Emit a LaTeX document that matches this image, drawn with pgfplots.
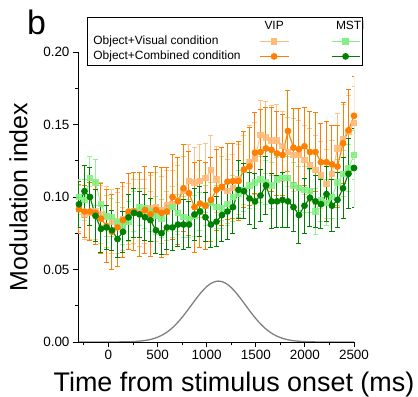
\documentclass[border=0pt]{standalone}
\usepackage{fontspec}
\setmainfont{Liberation Sans}
\usepackage{pgfplots}
\usepackage{pgfplotstable}
\pgfplotsset{compat=1.18}
\definecolor{oD}{RGB}{255,127,0}
\definecolor{oL}{RGB}{255,185,120}
\definecolor{gD}{RGB}{0,128,0}
\definecolor{gL}{RGB}{130,240,130}
\definecolor{gau}{RGB}{128,128,128}

\pgfplotstableread{
x y e
-300 .092 .016
-244 .088 .017
-188 .089 .018
-132 .090 .019
-76 .088 .020
-20 .086 .021
36 .083 .022
92 .082 .021
148 .085 .022
204 .088 .021
260 .090 .022
316 .089 .023
372 .090 .022
428 .092 .023
484 .093 .024
540 .091 .023
596 .094 .024
652 .095 .023
708 .098 .024
764 .104 .024
820 .111 .025
876 .110 .024
932 .111 .025
988 .113 .024
1044 .1186 .024
1100 .112 .023
1156 .106 .022
1212 .104 .022
1268 .106 .023
1324 .112 .024
1380 .1186 .024
1436 .124 .025
1492 .1266 .025
1548 .1427 .024
1604 .141 .025
1660 .139 .024
1716 .139 .025
1772 .135 .024
1828 .131 .024
1884 .129 .025
1940 .129 .024
1996 .1255 .024
2052 .122 .025
2108 .1186 .024
2164 .115 .023
2220 .109 .024
2276 .116 .023
2332 .1335 .024
2388 .140 .024
2444 .145 .025
2500 .151 .025
}\tVL

\pgfplotstableread{
x y e
-300 .100 .012
-244 .098 .014
-188 .113 .015
-132 .110 .016
-76 .095 .015
-20 .087 .014
36 .086 .013
92 .083 .013
148 .080 .013
204 .083 .014
260 .090 .014
316 .093 .013
372 .092 .014
428 .090 .014
484 .087 .013
540 .085 .013
596 .090 .014
652 .093 .014
708 .089 .013
764 .086 .014
820 .085 .013
876 .087 .014
932 .090 .013
988 .094 .014
1044 .096 .014
1100 .093 .015
1156 .092 .014
1212 .095 .015
1268 .100 .015
1324 .102 .016
1380 .105 .015
1436 .108 .016
1492 .110 .015
1548 .112 .016
1604 .110 .015
1660 .108 .016
1716 .112 .015
1772 .113 .016
1828 .113 .015
1884 .108 .016
1940 .106 .015
1996 .105 .016
2052 .104 .015
2108 .090 .016
2164 .098 .015
2220 .096 .016
2276 .100 .015
2332 .110 .016
2388 .116 .016
2444 .120 .016
2500 .129 .017
}\tVM

\pgfplotstableread{
x y e
-300 .0915 .017
-244 .090 .018
-188 .090 .020
-132 .089 .022
-76 .085 .024
-20 .080 .025
36 .076 .026
92 .079 .027
148 .084 .026
204 .090 .026
260 .090 .027
316 .088 .029
372 .091 .030
428 .088 .029
484 .091 .030
540 .089 .031
596 .090 .030
652 .100 .029
708 .097 .030
764 .106 .030
820 .1026 .029
876 .093 .031
932 .0955 .030
988 .094 .030
1044 .098 .029
1100 .105 .028
1156 .107 .027
1212 .1106 .026
1268 .111 .026
1324 .111 .027
1380 .119 .026
1436 .121 .027
1492 .1306 .028
1548 .131 .029
1604 .1335 .028
1660 .1325 .029
1716 .130 .029
1772 .129 .028
1828 .1455 .028
1884 .134 .027
1940 .133 .028
1996 .135 .027
2052 .131 .028
2108 .131 .027
2164 .124 .027
2220 .124 .028
2276 .1225 .027
2332 .121 .028
2388 .137 .028
2444 .146 .028
2500 .156 .027
}\tCV

\pgfplotstableread{
x y e
-300 .095 .016
-244 .104 .018
-188 .100 .020
-132 .087 .018
-76 .078 .016
-20 .079 .015
36 .077 .014
92 .071 .013
148 .076 .014
204 .086 .016
260 .089 .017
316 .088 .016
372 .086 .016
428 .084 .015
484 .077 .016
540 .075 .015
596 .079 .015
652 .079 .016
708 .081 .015
764 .081 .017
820 .081 .016
876 .088 .018
932 .090 .017
988 .086 .017
1044 .081 .016
1100 .083 .017
1156 .0876 .018
1212 .090 .019
1268 .093 .018
1324 .105 .020
1380 .104 .019
1436 .099 .018
1492 .097 .019
1548 .101 .018
1604 .108 .020
1660 .097 .019
1716 .097 .018
1772 .098 .019
1828 .097 .018
1884 .093 .017
1940 .0876 .020
1996 .094 .019
2052 .0995 .020
2108 .097 .018
2164 .095 .017
2220 .102 .019
2276 .094 .018
2332 .098 .019
2388 .106 .021
2444 .116 .024
2500 .120 .027
}\tCM

\pgfplotstableread{
x y
-300 0
0 0.00001
200 0.000156
300 0.000493
400 0.001364
450 0.00216
500 0.003308
550 0.004902
600 0.007026
650 0.009748
700 0.013083
750 0.016989
800 0.021344
850 0.025939
900 0.030496
950 0.034696
1000 0.038186
1050 0.04066
1100 0.041889
1120 0.042
1150 0.041751
1200 0.04026
1250 0.03756
1300 0.033903
1350 0.029602
1400 0.025011
1450 0.020446
1500 0.016166
1550 0.012369
1600 0.009156
1650 0.006556
1700 0.004544
1750 0.003045
1800 0.001975
1850 0.001239
1900 0.000752
2000 0.000251
2100 0.00007
2200 0.00001
2500 0
}\tG

\pgfplotsset{
  ebar/.style={error bars/.cd, y dir=both, y explicit,
     error bar style={line width=1bp, #1},
     error mark options={rotate=90, mark size=2.5bp, line width=1bp, #1}},
}

\begin{document}
\begin{tikzpicture}
\useasboundingbox (-78bp,-55bp) rectangle (340bp,342bp);
\begin{axis}[
  at={(0,0)}, anchor=south west,
  width=276bp, height=290bp, scale only axis,
  xmin=-310, xmax=2500, ymin=0, ymax=0.2,
  axis lines*=left,
  axis line style={line width=0.8bp, black},
  xtick={0,500,1000,1500,2000,2500},
  minor xtick={-250,250,750,1250,1750,2250},
  ytick={0,0.05,0.1,0.15,0.2},
  minor ytick={0.025,0.075,0.125,0.175},
  tick align=outside,
  major tick length=5bp, minor tick length=3bp,
  every tick/.style={black, line width=0.8bp},
  tick label style={font=\fontsize{13.5}{16}\selectfont},
  /pgf/number format/assume math mode=true,
  xticklabel style={/pgf/number format/set thousands separator={}},
  yticklabel style={/pgf/number format/.cd, fixed, fixed zerofill, precision=2},
  xlabel={Time from stimulus onset (ms)},
  xlabel style={at={(axis description cs:0.565,-0.171)}, anchor=base, font=\fontsize{27}{32}\selectfont},
  ylabel={Modulation index},
  ylabel style={at={(axis description cs:-0.1837,0.5)}, anchor=base, font=\fontsize{25}{30}\selectfont},
  legend style={at={(0,1)}, anchor=north west, xshift=9bp, yshift=35bp,
    draw=black, line width=0.8bp, fill=white, font=\fontsize{12}{14}\selectfont,
    inner xsep=5bp, inner ysep=1.5bp,
    nodes={inner xsep=1bp, inner ysep=1bp}},
  legend plot pos=right, legend columns=1, legend cell align=left,
]
\addplot[gau, line width=1.3bp, smooth, forget plot] table[x=x,y=y] {\tG};
\addplot[oL, opacity=0.85, line width=1bp, mark=square*, mark size=2.7bp, forget plot, ebar=oL] table[x=x,y=y,y error=e] {\tVL};
\addplot[gL, opacity=0.85, line width=1bp, mark=square*, mark size=2.7bp, forget plot, ebar=gL] table[x=x,y=y,y error=e] {\tVM};
\addplot[oD, line width=1.1bp, mark=*, mark size=2.8bp, forget plot, ebar=oD] table[x=x,y=y,y error=e] {\tCV};
\addplot[gD, line width=1.1bp, mark=*, mark size=2.8bp, forget plot, ebar=gD] table[x=x,y=y,y error=e] {\tCM};

\addlegendimage{legend image code/.code={
  \path[draw=none,fill=none] (-4bp,-7.5bp) rectangle (112bp,7.5bp);
  \node[overlay, inner sep=0pt] at (18.5bp,0bp) {VIP};
  \node[overlay, inner sep=0pt] at (90bp,0bp) {MSTI};}}
\addlegendentry{}
\addlegendimage{legend image code/.code={
  \path[draw=none,fill=none] (-4bp,-7.5bp) rectangle (112bp,7.5bp);
  \draw[overlay, oL, line width=1bp, mark=square*, mark size=2.7bp, mark repeat=2, mark phase=2] plot coordinates {(14bp,0bp)(28.5bp,0bp)(43bp,0bp)};
  \draw[overlay, gL, line width=1bp, mark=square*, mark size=2.7bp, mark repeat=2, mark phase=2] plot coordinates {(86bp,0bp)(100bp,0bp)(114bp,0bp)};}}
\addlegendentry{Object+Visual condition}
\addlegendimage{legend image code/.code={
  \path[draw=none,fill=none] (-4bp,-7.5bp) rectangle (112bp,7.5bp);
  \draw[overlay, oD, line width=1.1bp, mark=*, mark size=2.8bp, mark repeat=2, mark phase=2] plot coordinates {(14bp,0bp)(28.5bp,0bp)(43bp,0bp)};
  \draw[overlay, gD, line width=1.1bp, mark=*, mark size=2.8bp, mark repeat=2, mark phase=2] plot coordinates {(86bp,0bp)(100bp,0bp)(114bp,0bp)};}}
\addlegendentry{Object+Combined condition}
\end{axis}
\node[anchor=base west, inner sep=0pt, font=\fontsize{34}{40}\selectfont] at (-51bp,307bp) {b};
\end{tikzpicture}
\end{document}
